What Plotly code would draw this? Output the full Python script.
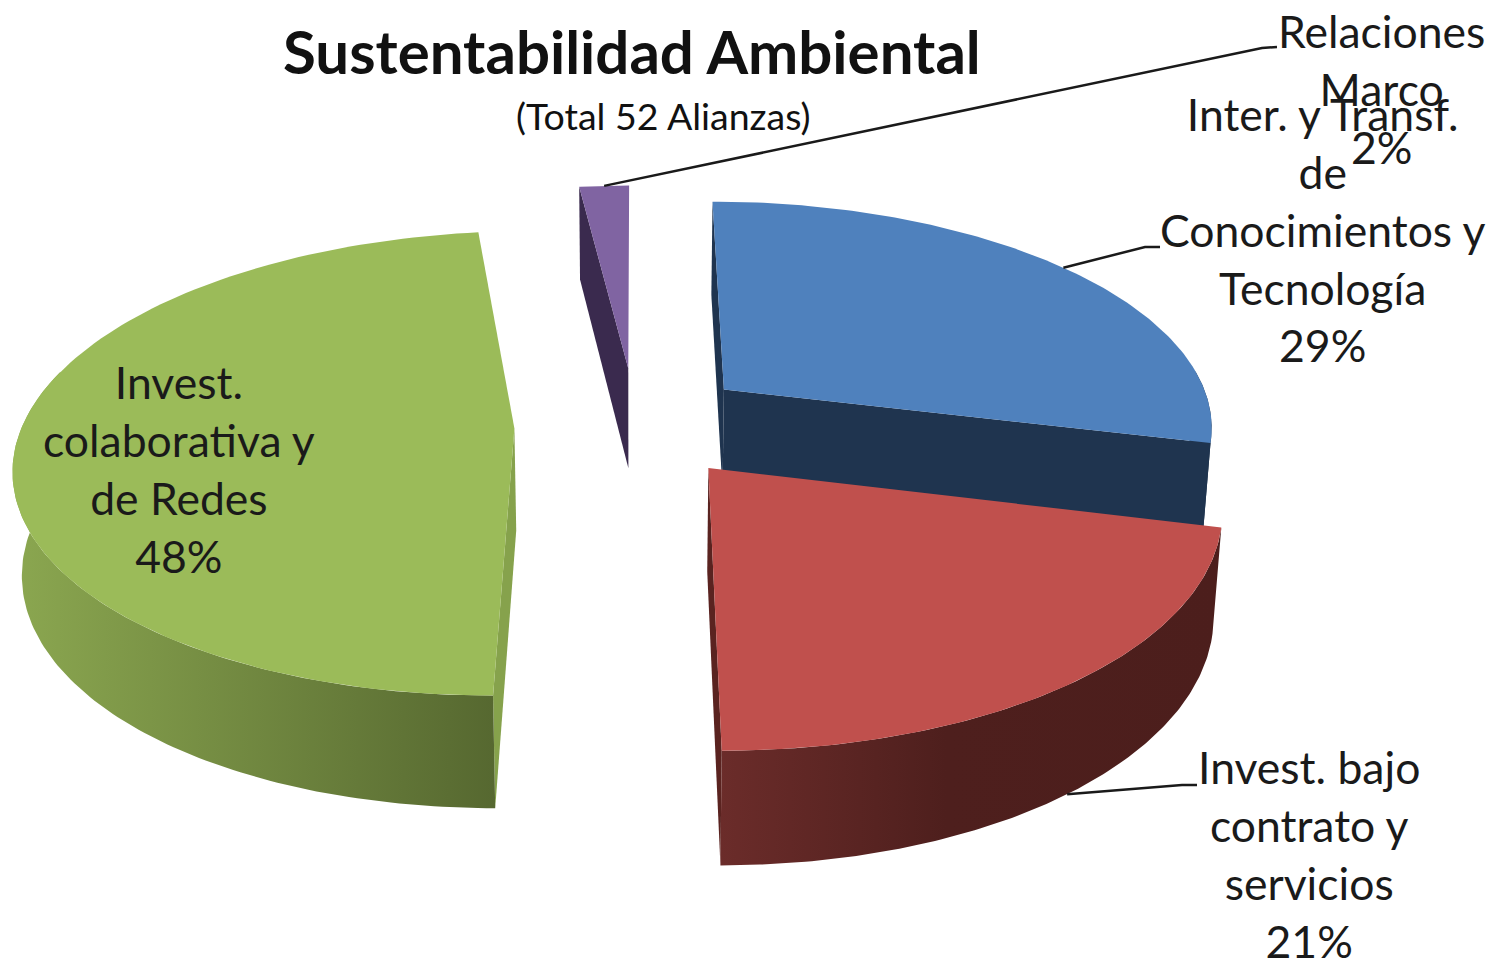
"""
Sustentabilidad Ambiental: pie 3D with exploded slices
Plotly has no 3D pie, so the slices are projected from the values and drawn as filled scatter traces
"""
import numpy as np
import plotly.graph_objects as go

# Data
categorias = ["Inter. y Transf. de Conocimientos y Tecnología",
              "Invest. bajo contrato y servicios",
              "Invest. colaborativa y de Redes",
              "Relaciones Marco"]
alianzas = [15, 11, 25, 1]
etiquetas = ["Inter. y Transf.<br>de<br>Conocimientos y<br>Tecnología",
             "Invest. bajo<br>contrato y<br>servicios",
             "Invest.<br>colaborativa y<br>de Redes",
             "Relaciones<br>Marco"]
titulo = "Sustentabilidad Ambiental"
subtitulo = "(Total 52 Alianzas)"

# Colours
color_tapa = ["#4f81bd", "#c0504d", "#9bbb59", "#8064a2"]
color_corte = ["#1f344f", "#5a2320", "#86a24c", "#3a2a4e"]
gradiente_pared = [
    [[0, "#1f344f"], [1, "#1f344f"]],
    [[0, "#6b2c2a"], [0.45, "#4e1f1d"], [1, "#4c1e1c"]],
    [[0, "#8ba750"], [1, "#566830"]],
    [[0, "#3a2a4e"], [1, "#3a2a4e"]],
]

# Projection of the pie
CX, CY = 635, 425
RX, RY = 492, 226
PERSP = 0.15
EXPLOSION_X = [0.235, 0.235, 0.245, 0.235]
EXPLOSION_Y = [0.26, 0.235, 0.25, 0.26]
ALTURA = 102


def proyectar(x, y, base=False):
    s = 1 / (1 + PERSP * y)
    px = CX + RX * x * s
    py = CY - RY * y * s
    if base:
        px = CX + (px - CX) * 0.985
        py = py + ALTURA + (py - CY) * 0.039
    return px, py


def arco(a0, a1, centro, base=False, n=120):
    t = np.radians(np.linspace(a0, a1, n))
    return proyectar(centro[0] + np.sin(t), centro[1] + np.cos(t), base)


def poligono(fig, xs, ys, color=None, gradiente=None):
    kw = dict(fillcolor=color) if gradiente is None else dict(
        fillgradient=dict(type="horizontal", colorscale=gradiente))
    fig.add_trace(go.Scatter(x=xs, y=ys, mode="lines", fill="toself", line=dict(width=0),
                             hoverinfo="skip", showlegend=False, **kw))


def cara_corte(fig, angulo, centro, color):
    ax, ay = proyectar(*centro)
    bx, by = proyectar(*centro, base=True)
    t = np.radians(angulo)
    ox, oy = proyectar(centro[0] + np.sin(t), centro[1] + np.cos(t))
    qx, qy = proyectar(centro[0] + np.sin(t), centro[1] + np.cos(t), base=True)
    poligono(fig, [ax, ox, qx, bx, ax], [ay, oy, qy, by, ay], color)


total = sum(alianzas)
fin = np.cumsum(alianzas) / total * 360
inicio = np.concatenate([[0], fin[:-1]])
medio = (inicio + fin) / 2
centros = [(EXPLOSION_X[i] * np.sin(np.radians(m)), EXPLOSION_Y[i] * np.cos(np.radians(m)))
           for i, m in enumerate(medio)]

fig = go.Figure()

# Back to front: purple, blue, green, red
for i in [3, 0, 2, 1]:
    a0, a1, c = inicio[i], fin[i], centros[i]
    # radial faces
    if i == 3:
        cara_corte(fig, a0, c, color_corte[i])
    if i == 0:
        cara_corte(fig, a0, c, color_corte[i])
        cara_corte(fig, a1, c, color_corte[i])
    if i in (1, 2):
        cara_corte(fig, 180, c, color_corte[i])
    # outer wall, only the part that faces front
    w0, w1 = max(a0, 85), min(a1, 285)
    if w1 > w0:
        tx, ty = arco(w0, w1, c)
        bx, by = arco(w0, w1, c, base=True)
        poligono(fig, np.r_[tx, bx[::-1], tx[0]], np.r_[ty, by[::-1], ty[0]],
                 gradiente=gradiente_pared[i])
    # top
    tx, ty = arco(a0, a1, c)
    ax, ay = proyectar(*c)
    poligono(fig, np.r_[ax, tx, ax], np.r_[ay, ty, ay], color_tapa[i])

# Leader lines
codos = {0: [(1145, 247), (1160, 247)],
         1: [(1182, 785), (1197, 785)],
         3: [(1262, 48), (1277, 47)]}
for i, codo in codos.items():
    t = np.radians(medio[i])
    px, py = proyectar(centros[i][0] + np.sin(t), centros[i][1] + np.cos(t), base=(i == 1))
    fig.add_trace(go.Scatter(x=[px] + [p[0] for p in codo], y=[py] + [p[1] for p in codo],
                             mode="lines", line=dict(color="#1a1a1a", width=2.5),
                             hoverinfo="skip", showlegend=False))

FUENTE = "Lato"
pos_etiqueta = [(1322, 229), (1309, 853), (179, 468), (1381, 88)]
for i, (x, y) in enumerate(pos_etiqueta):
    pct = round(alianzas[i] / total * 100)
    fig.add_annotation(x=x, y=y, text=f"{etiquetas[i]}<br>{pct}%", showarrow=False,
                       align="center", xanchor="center", yanchor="middle",
                       font=dict(family=FUENTE, size=44.5, color="#1a1a1a"))

fig.add_annotation(x=632, y=51, text=f"<b>{titulo}</b>", showarrow=False,
                   font=dict(family=FUENTE, size=60, color="#111111"))
fig.add_annotation(x=663, y=115, text=subtitulo, showarrow=False,
                   font=dict(family=FUENTE, size=37.5, color="#111111"))

fig.update_xaxes(range=[0, 1493], visible=False, fixedrange=True)
fig.update_yaxes(range=[961, 0], visible=False, fixedrange=True)
fig.update_layout(width=1493, height=961, margin=dict(l=0, r=0, t=0, b=0),
                  paper_bgcolor="white", plot_bgcolor="white", showlegend=False)

fig.write_html("out.html", config=dict(displayModeBar=False),
               post_script="document.body.style.margin='0';")
